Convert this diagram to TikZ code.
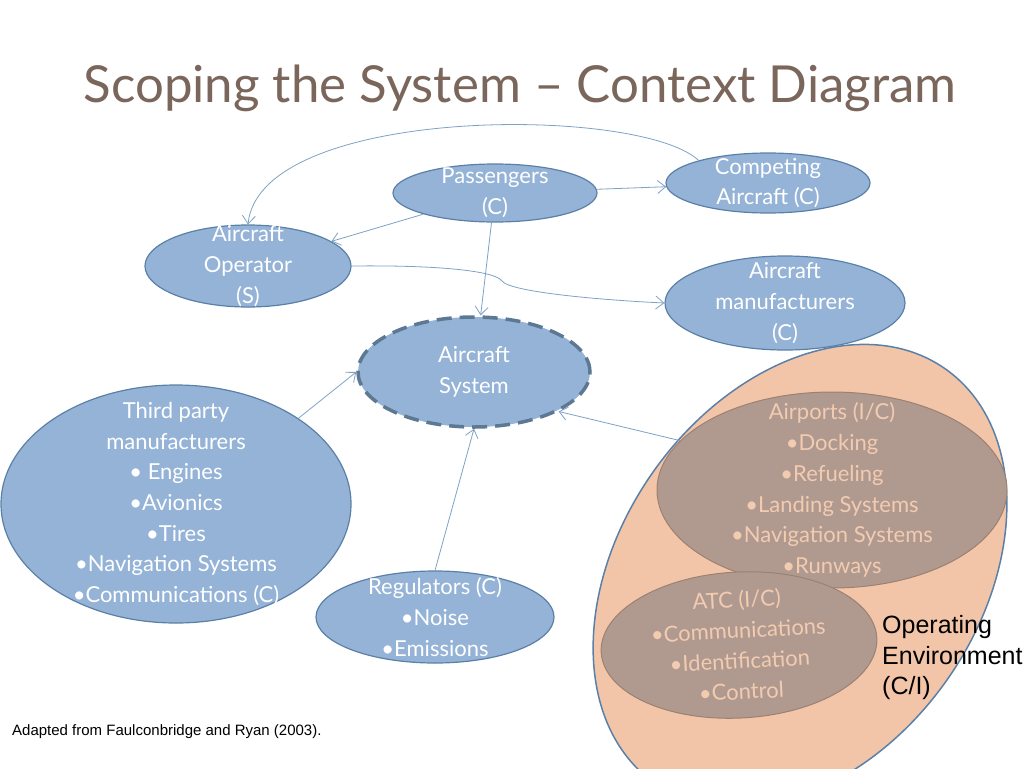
\documentclass[tikz,border=0pt]{standalone}
\usepackage{fontspec}
\setmainfont{Lato}
\newfontfamily\arialfont{Liberation Sans}
\usetikzlibrary{shapes.geometric,arrows.meta}

\definecolor{nodeblue}{HTML}{94B3D6}
\definecolor{edgeblue}{HTML}{5B80A8}
\definecolor{linkblue}{HTML}{7EA2C6}
\definecolor{sysdash}{HTML}{5D7893}
\definecolor{peach}{HTML}{F3C5A8}
\definecolor{envbrown}{HTML}{B09A8F}
\definecolor{envedge}{HTML}{9C8172}
\definecolor{envtext}{HTML}{F2CBB1}
\definecolor{titlebrown}{HTML}{7A665B}

\tikzset{
  party/.style={ellipse, draw=edgeblue, fill=nodeblue, line width=1.2pt, inner sep=-40pt,
    align=center, text=white, font=\fontsize{22}{30.7}\selectfont},
  envpart/.style={ellipse, draw=envedge, fill=envbrown, line width=1pt, inner sep=-40pt,
    align=center, text=envtext, font=\fontsize{22}{30.7}\selectfont},
  link/.style={draw=linkblue, line width=0.8pt}
}

\begin{document}
\begin{tikzpicture}[x=1pt, y=-1pt, >={Straight Barb[length=8pt,width=13pt]}]
    \useasboundingbox (0,0) rectangle (1024,768);
    \fill[white] (0,0) rectangle (1024,768);
    \clip (0,0) rectangle (1024,768);

    \node[anchor=base, text=titlebrown, font=\fontsize{51}{60}\selectfont] (title) at (520,102) {Scoping the System -- Context Diagram};

    % operating environment
    \node[ellipse, draw=edgeblue, fill=peach, line width=1.5pt, rotate=55, minimum width=506pt, minimum height=360pt] (env) at (800,576) {};
    \node[envpart, minimum width=350pt, minimum height=196pt] (air) at (832,490) {Airports (I/C)\\ •Docking\\ •Refueling\\ •Landing Systems\\ •Navigation Systems\\ •Runways};
    \node[envpart, rotate=3, minimum width=276pt, minimum height=146pt] (atc) at (739,645) {ATC (I/C)\\ •Communications\\ •Identification\\ •Control};
    \node[anchor=west, align=left, inner sep=0pt, font=\arialfont\fontsize{25}{30.5}\selectfont] (envlabel) at (882,658) {Operating\\ Environment\\ (C/I)};

    % stakeholders
    \node[party, minimum width=204pt, minimum height=58pt]  (pass)  at (495,193) {Passengers\\ (C)};
    \node[party, minimum width=204pt, minimum height=60pt]  (comp)  at (768,183) {Competing\\ Aircraft (C)};
    \node[party, minimum width=206pt, minimum height=82pt]  (op)    at (248,266) {Aircraft\\ Operator\\ (S)};
    \node[party, minimum width=240pt, minimum height=94pt]  (mfr)   at (785,303) {Aircraft\\ manufacturers\\ (C)};
    \node[party, draw=sysdash, line width=3.5pt, dash pattern=on 15pt off 8pt, minimum width=232pt, minimum height=110pt] (sys) at (474,372) {Aircraft\\ System};
    \node[party, minimum width=350pt, minimum height=238pt] (third) at (176,504) {Third party\\ manufacturers\\ • Engines\\ •Avionics\\ •Tires\\ •Navigation Systems\\ •Communications (C)};
    \node[party, minimum width=238pt, minimum height=92pt]  (reg)   at (435,617) {Regulators (C)\\ •Noise\\ •Emissions};

    \node[anchor=west, inner sep=0pt, font=\arialfont\fontsize{15}{18}\selectfont] (source) at (12,732) {Adapted from Faulconbridge and Ryan (2003).};

    % connectors
    \draw[link, ->] (comp.162) .. controls (640,105) and (260,105) .. (op.north);
    \draw[link, ->] (pass) -- (op);
    \draw[link, ->] (pass) -- (comp);
    \draw[link, ->] (pass) -- (sys);
    \draw[link, ->] (op.east) .. controls (440,265) and (495,271) .. (502,281) .. controls (510,292) and (600,300) .. (mfr.west);
    \draw[link, ->] (third.35) -- (sys.west);
    \draw[link, ->] (reg.north) -- (sys.south);
    \draw[link, ->] (air.162) -- (sys.-25);
\end{tikzpicture}
\end{document}
